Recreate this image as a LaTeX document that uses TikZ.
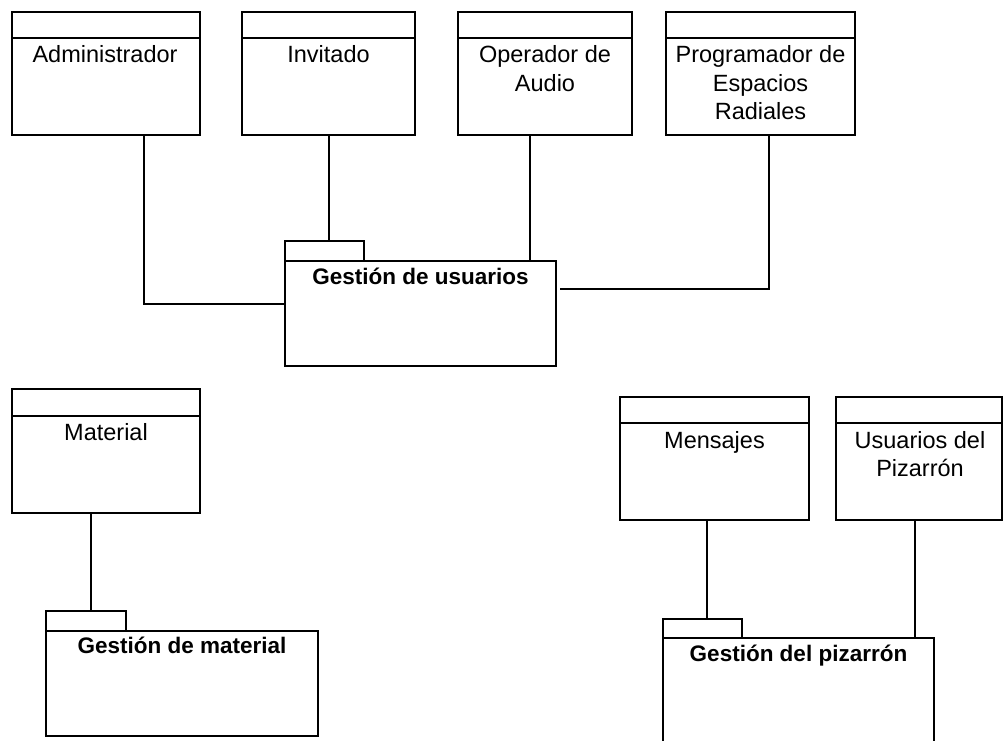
\documentclass[tikz,border=0pt]{standalone}
\usepackage{fontspec}
\setmainfont{Liberation Sans}
\begin{document}
\begin{tikzpicture}[x=1pt,y=-1pt,
  ln/.style={line width=1.4pt, black},
  box/.style={draw, ln, inner sep=0pt, outer sep=0pt},
  lbl/.style={inner sep=0pt, anchor=base, font=\fontsize{23.5}{28.5}\selectfont},
  ttl/.style={inner sep=0pt, anchor=base, font=\fontsize{22.5}{27}\selectfont\bfseries},
  conn/.style={ln}]
\fill[white] (0,0) rectangle (1004,741);
\useasboundingbox (0,0) rectangle (1004,741);
\clip (0,0) rectangle (1004,741);

% class boxes
\node[box, minimum width=188pt, minimum height=123pt] (adm) at (106,73.5) {};
\node[box, minimum width=173pt, minimum height=123pt] (inv) at (328.5,73.5) {};
\node[box, minimum width=174pt, minimum height=123pt] (ope) at (545,73.5) {};
\node[box, minimum width=189pt, minimum height=123pt] (pro) at (760.5,73.5) {};
\node[box, minimum width=188pt, minimum height=124pt] (mat) at (106,451) {};
\node[box, minimum width=189pt, minimum height=123pt] (men) at (714.5,458.5) {};
\node[box, minimum width=166pt, minimum height=123pt] (usu) at (919,458.5) {};

% header lines
\foreach \b in {adm,inv,ope,pro,men,usu}
  \draw[ln] ([yshift=-26pt]\b.north west) -- ([yshift=-26pt]\b.north east);
\draw[ln] ([yshift=-27pt]mat.north west) -- ([yshift=-27pt]mat.north east);

% class names
\node[lbl] (admT) at (105,63) {Administrador};
\node[lbl] (invT) at (328.5,63) {Invitado};
\node[lbl] (opeT1) at (545,63) {Operador de};
\node[lbl] (opeT2) at (545,91.5) {Audio};
\node[lbl] (proT1) at (760.5,63) {Programador de};
\node[lbl] (proT2) at (760.5,91.5) {Espacios};
\node[lbl] (proT3) at (760.5,120) {Radiales};
\node[lbl] (matT) at (106,440) {Material};
\node[lbl] (menT) at (714.5,448) {Mensajes};
\node[lbl] (usuT1) at (920,448) {Usuarios del};
\node[lbl] (usuT2) at (920,476.5) {Pizarrón};

% packages
\node[box, minimum width=79pt, minimum height=20pt] (tabU) at (324.5,251) {};
\node[box, minimum width=271pt, minimum height=105pt] (pkgU) at (420.5,313.5) {};
\node[ttl] (pkgUT) at (420.5,284) {Gestión de usuarios};

\node[box, minimum width=80pt, minimum height=20pt] (tabM) at (86,621) {};
\node[box, minimum width=272pt, minimum height=105pt] (pkgM) at (182,683.5) {};
\node[ttl] (pkgMT) at (182,653) {Gestión de material};

\node[box, minimum width=79pt, minimum height=19pt] (tabP) at (702.5,628.5) {};
\node[box, minimum width=271pt, minimum height=122pt] (pkgP) at (798.5,699) {};
\node[ttl] (pkgPT) at (798.5,661) {Gestión del pizarrón};

% connectors
\coordinate (jA) at (144,304);
\draw[conn] (adm.south -| jA) |- (pkgU.west |- jA);
\coordinate (jI) at (329,0);
\draw[conn] (inv.south -| jI) -- (tabU.north -| jI);
\coordinate (jO) at (530,0);
\draw[conn] (ope.south -| jO) -- (pkgU.north -| jO);
\coordinate (jP) at (769,289);
\draw[conn] (pro.south -| jP) |- ([xshift=4pt]pkgU.east |- jP);
\coordinate (jM) at (91,0);
\draw[conn] (mat.south -| jM) -- (tabM.north -| jM);
\coordinate (jMe) at (707,0);
\draw[conn] (men.south -| jMe) -- (tabP.north -| jMe);
\coordinate (jU) at (915,0);
\draw[conn] (usu.south -| jU) -- (pkgP.north -| jU);
\end{tikzpicture}
\end{document}
